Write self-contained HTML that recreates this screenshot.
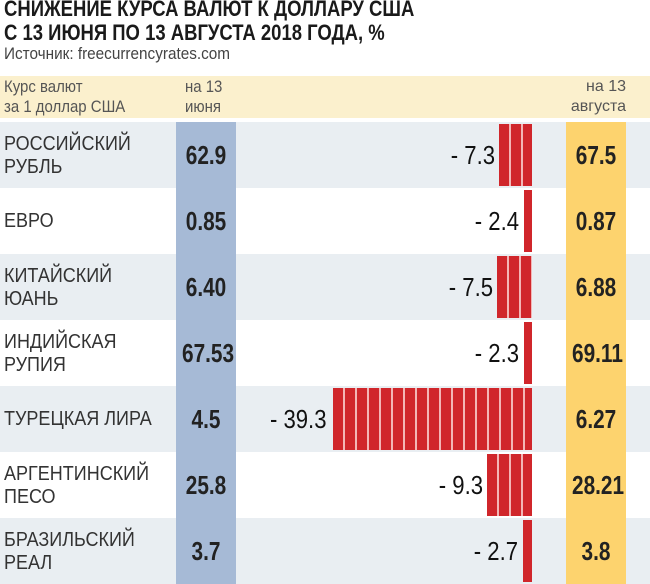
<!DOCTYPE html><html><head><meta charset="utf-8"><style>
body{margin:0;width:650px;height:584px;background:#fff;font-family:"Liberation Sans",sans-serif;position:relative;overflow:hidden;color:#1a1a1a}
.a{position:absolute;white-space:nowrap}
.t{font-weight:bold;font-size:22px;line-height:24px;left:4px;transform:scaleX(.84);transform-origin:left}
.hd{left:0;top:76px;width:650px;height:42px;background:#fbf0cd}
.row{left:0;width:650px;height:66px}
.g{background:#e9eef2}
.nm{left:4px;font-size:20px;line-height:23px;color:#333;transform:scaleX(.9);transform-origin:left}
.b{left:176px;width:60px;height:66px;background:#a6bad6}
.y{left:566px;width:60px;height:66px;background:#fdd36e}
.v{font-size:26px;font-weight:bold;transform:scaleX(.8);text-align:center;width:60px;line-height:66px;color:#222}
.bar{height:62px;background:repeating-linear-gradient(90deg,#d0262b 0,#d0262b 10px,#f3b6b6 10px,#f3b6b6 12px);right:118px}
.p{font-size:26px;transform:scaleX(.85);transform-origin:right;text-align:right;line-height:66px;color:#111}
.sm{font-size:17px;line-height:20px;color:#555;transform:scaleX(.88);transform-origin:left}
</style></head><body>
<div class="a t" style="top:-3px">СНИЖЕНИЕ КУРСА ВАЛЮТ К ДОЛЛАРУ США</div>
<div class="a t" style="top:21px">С 13 ИЮНЯ ПО 13 АВГУСТА 2018 ГОДА, %</div>
<div class="a" style="left:4px;top:44px;font-size:17px;color:#444;transform:scaleX(.9);transform-origin:left">Источник: freecurrencyrates.com</div>
<div class="a hd"></div>
<div class="a sm" style="left:4px;top:77px">Курс валют<br>за 1 доллар США</div>
<div class="a sm" style="left:185px;top:77px">на 13<br>июня</div>
<div class="a sm" style="left:562px;top:77px;text-align:right;width:64px;transform:none;font-size:16px">на 13<br>августа</div>

<div class="a row g" style="top:122px"></div>
<div class="a row" style="top:188px"></div>
<div class="a row g" style="top:254px"></div>
<div class="a row" style="top:320px"></div>
<div class="a row g" style="top:386px"></div>
<div class="a row" style="top:452px"></div>
<div class="a row g" style="top:518px"></div>

<div class="a b" style="top:122px;height:462px"></div>
<div class="a y" style="top:122px;height:462px"></div>

<div class="a nm" style="top:133px">РОССИЙСКИЙ<br>РУБЛЬ</div>
<div class="a nm" style="top:210px">ЕВРО</div>
<div class="a nm" style="top:265px">КИТАЙСКИЙ<br>ЮАНЬ</div>
<div class="a nm" style="top:331px">ИНДИЙСКАЯ<br>РУПИЯ</div>
<div class="a nm" style="top:408px">ТУРЕЦКАЯ ЛИРА</div>
<div class="a nm" style="top:463px">АРГЕНТИНСКИЙ<br>ПЕСО</div>
<div class="a nm" style="top:529px">БРАЗИЛЬСКИЙ<br>РЕАЛ</div>

<div class="a v" style="left:176px;top:122px">62.9</div>
<div class="a v" style="left:176px;top:188px">0.85</div>
<div class="a v" style="left:176px;top:254px">6.40</div>
<div class="a v" style="left:176px;top:320px">67.53</div>
<div class="a v" style="left:176px;top:386px">4.5</div>
<div class="a v" style="left:176px;top:452px">25.8</div>
<div class="a v" style="left:176px;top:518px">3.7</div>

<div class="a v" style="left:566px;top:122px">67.5</div>
<div class="a v" style="left:566px;top:188px">0.87</div>
<div class="a v" style="left:566px;top:254px">6.88</div>
<div class="a v" style="left:566px;top:320px">69.11</div>
<div class="a v" style="left:566px;top:386px">6.27</div>
<div class="a v" style="left:566px;top:452px">28.21</div>
<div class="a v" style="left:566px;top:518px">3.8</div>

<div class="a bar" style="top:124px;width:33px"></div>
<div class="a bar" style="top:190px;width:8px"></div>
<div class="a bar" style="top:256px;width:35px"></div>
<div class="a bar" style="top:322px;width:8px"></div>
<div class="a bar" style="top:388px;width:199px"></div>
<div class="a bar" style="top:454px;width:45px"></div>
<div class="a bar" style="top:520px;width:9px"></div>

<div class="a p" style="right:155px;top:122px">- 7.3</div>
<div class="a p" style="right:131px;top:188px">- 2.4</div>
<div class="a p" style="right:157px;top:254px">- 7.5</div>
<div class="a p" style="right:131px;top:320px">- 2.3</div>
<div class="a p" style="right:324px;top:386px">- 39.3</div>
<div class="a p" style="right:167px;top:452px">- 9.3</div>
<div class="a p" style="right:132px;top:518px">- 2.7</div>
</body></html>
